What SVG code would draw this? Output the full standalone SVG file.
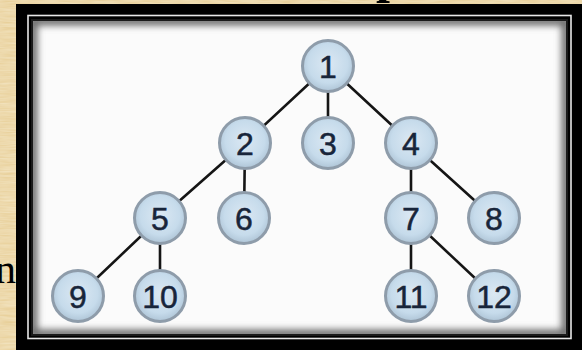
<svg xmlns="http://www.w3.org/2000/svg" width="582" height="350" viewBox="0 0 582 350">
<style>
.edge{stroke:#151515;stroke-width:2.6;stroke-linecap:round}
.nc{fill:url(#ng);stroke:#8e9caa;stroke-width:3}
.nt{font-family:"Liberation Sans",Arial,sans-serif;font-size:32px;fill:#18253a;stroke:#18253a;stroke-width:0.5;text-anchor:middle}
.bg{font-family:"Liberation Serif","Times New Roman",serif;fill:#000}
</style>
<defs>
<radialGradient id="ng" cx="50%" cy="45%" r="55%">
<stop offset="0" stop-color="#dbe8f3"/>
<stop offset="0.7" stop-color="#c6dbeb"/>
<stop offset="1" stop-color="#aec4d6"/>
</radialGradient>
<filter id="tex" x="0" y="0" width="100%" height="100%">
<feTurbulence type="fractalNoise" baseFrequency="0.05 0.6" numOctaves="2" seed="3" result="n"/>
<feColorMatrix in="n" type="matrix" values="0 0 0 0 0.91  0 0 0 0 0.80  0 0 0 0 0.56  0 0 0 -0.9 0.9" result="c"/>
<feComposite in="c" in2="SourceGraphic" operator="over"/>
</filter>
<filter id="blur" x="-10%" y="-10%" width="120%" height="120%"><feGaussianBlur stdDeviation="3.5"/></filter>
<clipPath id="pc"><rect x="33" y="21" width="533" height="313"/></clipPath>
</defs>
<rect x="0" y="0" width="582" height="350" fill="#e6cc92" filter="url(#tex)"/>
<text class="bg" x="-5" y="283" font-size="42">n</text>
<text class="bg" x="376" y="-8" font-size="50" font-weight="bold">p</text>
<rect x="16" y="4" width="566" height="346" fill="#000"/>
<rect x="28" y="15.5" width="543" height="323" fill="none" stroke="#e8e8e8" stroke-width="1.6"/>
<rect x="31" y="19" width="537" height="317" fill="#1a1a1a"/>
<rect x="33" y="21" width="533" height="313" fill="#fbfbfb"/>
<g clip-path="url(#pc)">
<rect x="33" y="21" width="533" height="313" fill="none" stroke="#6a6a6a" stroke-width="9" filter="url(#blur)"/>
</g>
<g id="connectors">
<line class="edge" x1="328" y1="66" x2="245" y2="143"/>
<line class="edge" x1="328" y1="66" x2="328" y2="143"/>
<line class="edge" x1="328" y1="66" x2="411" y2="143"/>
<line class="edge" x1="245" y1="143" x2="160" y2="218"/>
<line class="edge" x1="245" y1="143" x2="244" y2="218"/>
<line class="edge" x1="411" y1="143" x2="411" y2="218"/>
<line class="edge" x1="411" y1="143" x2="494" y2="218"/>
<line class="edge" x1="160" y1="218" x2="78" y2="296"/>
<line class="edge" x1="160" y1="218" x2="160" y2="296"/>
<line class="edge" x1="411" y1="218" x2="411" y2="296"/>
<line class="edge" x1="411" y1="218" x2="494" y2="296"/>
</g>
<g id="n1"><circle class="nc" cx="328" cy="66" r="25.5"/><text class="nt" x="328" y="77.5">1</text></g>
<g id="n2"><circle class="nc" cx="245" cy="143" r="25.5"/><text class="nt" x="245" y="154.5">2</text></g>
<g id="n3"><circle class="nc" cx="328" cy="143" r="25.5"/><text class="nt" x="328" y="154.5">3</text></g>
<g id="n4"><circle class="nc" cx="411" cy="143" r="25.5"/><text class="nt" x="411" y="154.5">4</text></g>
<g id="n5"><circle class="nc" cx="160" cy="218" r="25.5"/><text class="nt" x="160" y="229.5">5</text></g>
<g id="n6"><circle class="nc" cx="244" cy="218" r="25.5"/><text class="nt" x="244" y="229.5">6</text></g>
<g id="n7"><circle class="nc" cx="411" cy="218" r="25.5"/><text class="nt" x="411" y="229.5">7</text></g>
<g id="n8"><circle class="nc" cx="494" cy="218" r="25.5"/><text class="nt" x="494" y="229.5">8</text></g>
<g id="n9"><circle class="nc" cx="78" cy="296" r="25.5"/><text class="nt" x="78" y="307.5">9</text></g>
<g id="n10"><circle class="nc" cx="160" cy="296" r="25.5"/><text class="nt" x="160" y="307.5">10</text></g>
<g id="n11"><circle class="nc" cx="411" cy="296" r="25.5"/><text class="nt" x="411" y="307.5">11</text></g>
<g id="n12"><circle class="nc" cx="494" cy="296" r="25.5"/><text class="nt" x="494" y="307.5">12</text></g>
</svg>
